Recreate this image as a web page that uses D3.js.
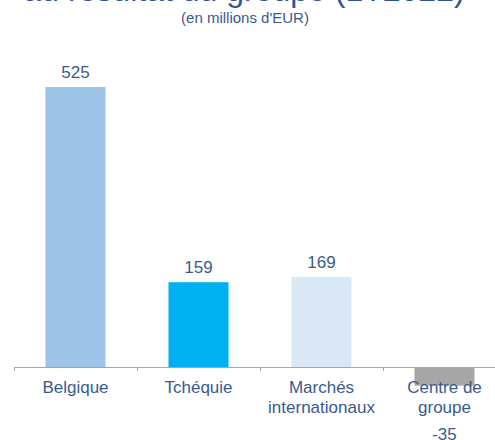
<!DOCTYPE html>
<html>
<head>
<meta charset="utf-8">
<script src="https://cdn.jsdelivr.net/npm/d3@7"></script>
<style>
  body { margin: 0; background: #fff; }
  svg { display: block; font-family: "Liberation Sans", Arial, sans-serif; }
</style>
</head>
<body>
<div id="chart"></div>
<script>
// divisions and their contribution (millions EUR)
var categories = [["Belgique"], ["Tchéquie"], ["Marchés", "internationaux"], ["Centre de", "groupe"]];
var values = [525, 159, 169, -35];
var colors = ["#9dc3e6", "#00b0f0", "#dae8f5", "#a6a6a6"];
var title = "au résultat du groupe (1T2022)";
var subtitle = "(en millions d'EUR)";

var W = 495, H = 440;
var keys = categories.map(d => d.join(" "));

var svg = d3.select("#chart").append("svg")
	.attr("width", W)
	.attr("height", H);

// title (top part cut off, as in the original slide)
svg.append("text")
	.attr("x", 244)
	.attr("y", 1)
	.attr("text-anchor", "middle")
	.style("font-size", "32px")
	.style("fill", "#2f5496")
	.text(title);

svg.append("text")
	.attr("x", 245)
	.attr("y", 23)
	.attr("text-anchor", "middle")
	.style("font-size", "15px")
	.style("fill", "#3b5a8c")
	.text(subtitle);

var x = d3.scaleBand()
	.domain(keys)
	.range([14, 506])
	.paddingInner(0.512)
	.paddingOuter(0.256);

var y = d3.scaleLinear()
	.domain([0, 525])
	.range([367, 87]);

// bars
svg.selectAll("rect.bar")
	.data(values)
	.join("rect")
	.attr("class", "bar")
	.attr("x", (d, i) => x(keys[i]))
	.attr("width", x.bandwidth())
	.attr("y", d => y(Math.max(0, d)))
	.attr("height", d => Math.abs(y(d) - y(0)))
	.style("fill", (d, i) => colors[i]);

// axis line with ticks at the category boundaries
svg.append("line")
	.attr("x1", 14).attr("x2", W)
	.attr("y1", y(0) + 0.5).attr("y2", y(0) + 0.5)
	.style("stroke", "#a6a6a6");

var bounds = keys.map(k => x(k) - x.step() * x.paddingOuter());
svg.selectAll("line.tick")
	.data(bounds)
	.join("line")
	.attr("class", "tick")
	.attr("x1", d => Math.round(d) + 0.5).attr("x2", d => Math.round(d) + 0.5)
	.attr("y1", y(0)).attr("y2", y(0) + 4)
	.style("stroke", "#a6a6a6");

// category labels
var labels = svg.selectAll("text.cat")
	.data(categories)
	.join("text")
	.attr("class", "cat")
	.attr("text-anchor", "middle")
	.style("font-size", "17px")
	.style("fill", "#3b5a8c");
labels.each(function(d, i) {
	var t = d3.select(this);
	d.forEach((line, j) => {
		t.append("tspan")
			.attr("x", x(keys[i]) + x.bandwidth() / 2)
			.attr("y", 393 + j * 20)
			.text(line);
	});
});

// value labels
svg.selectAll("text.val")
	.data(values)
	.join("text")
	.attr("class", "val")
	.attr("text-anchor", "middle")
	.attr("x", (d, i) => x(keys[i]) + x.bandwidth() / 2)
	.attr("y", d => d >= 0 ? y(d) - 9 : 440)
	.style("font-size", "17px")
	.style("fill", "#3b5a8c")
	.text(d => d);
</script>
</body>
</html>
